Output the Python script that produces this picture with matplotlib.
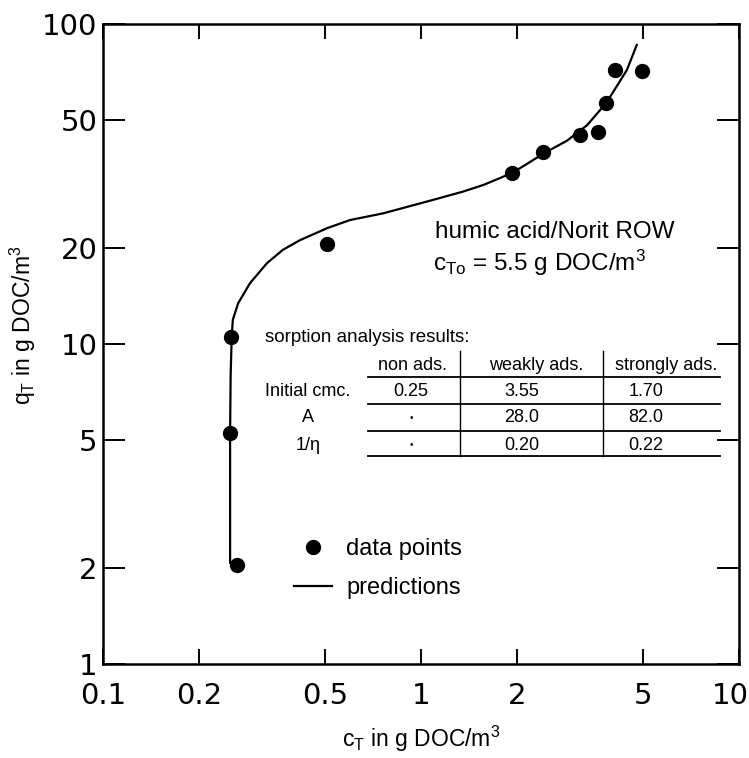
import matplotlib
matplotlib.use("Agg")
from matplotlib import pyplot as plt
from matplotlib.lines import Line2D
from matplotlib.transforms import ScaledTranslation

plt.rcParams['font.family'] = ['Liberation Sans', 'DejaVu Sans']
plt.rcParams['mathtext.fontset'] = 'custom'
plt.rcParams['mathtext.rm'] = 'Liberation Sans'
plt.rcParams['mathtext.it'] = 'Liberation Sans:italic'

# Measured isotherm: humic acid on Norit ROW
c_data = [0.253, 0.251, 0.264, 0.506, 1.93, 2.42, 3.16, 3.60, 3.82, 4.08, 4.95]
q_data = [10.5, 5.27, 2.04, 20.5, 34.2, 39.8, 45.0, 46.0, 56.6, 71.8, 71.3]

# Predicted curve
c_pred = [0.251, 0.251, 0.252, 0.254, 0.256, 0.266, 0.290, 0.328, 0.368, 0.416,
          0.506, 0.598, 0.76, 1.09, 1.35, 1.57, 1.93, 2.15, 2.42, 2.88, 3.33,
          3.82, 4.02, 4.44, 4.77]
q_pred = [2.07, 5.27, 8.0, 10.6, 11.9, 13.4, 15.5, 17.9, 19.7, 21.1,
          23.0, 24.4, 25.6, 28.2, 29.9, 31.4, 34.2, 36.5, 39.3, 43.2, 48.3,
          56.6, 61.3, 71.8, 86.0]

x_ticks = [0.1, 0.2, 0.5, 1, 2, 5, 10]
x_ticklabels = ["0.1", "0.2", "0.5", "1", "2", "5", "10"]
y_ticks = [1, 2, 5, 10, 20, 50, 100]
y_ticklabels = ["1", "2", "5", "10", "20", "50", "100"]

# sorption analysis table
col_headers = ["non ads.", "weakly ads.", "strongly ads."]
row_labels = ["Initial cmc.", "A", "1/\u03b7"]
cells = [["0.25", "3.55", "1.70"],
         ["\u2022", "28.0", "82.0"],
         ["\u2022", "0.20", "0.22"]]

W, H = 749, 758
fig = plt.figure(figsize=(W / 100, H / 100), dpi=100)
ax = fig.add_axes([103 / W, 1 - 664 / H, 636 / W, 640 / H])


def fx(p):
    return p / W


def fy(p):
    return 1 - p / H


pts, = ax.plot(c_data, q_data, 'o', color='black', markersize=10, label='data points')
line, = ax.plot(c_pred, q_pred, '-', color='black', lw=1.6, label='predictions')

ax.set_xscale('log')
ax.set_yscale('log')
ax.set_xlim(0.1, 10)
ax.set_ylim(1, 100)
ax.set_xticks(x_ticks)
ax.set_xticklabels(x_ticklabels)
ax.set_yticks(y_ticks)
ax.set_yticklabels(y_ticklabels)
ax.minorticks_off()
ax.tick_params(which='major', direction='in', top=True, right=True,
               width=1.4, labelsize=21)
ax.tick_params(axis='x', pad=13, length=11)
ax.tick_params(axis='y', pad=4, length=16)
for lab in ax.get_xticklabels() + ax.get_yticklabels():
    lab.set_family('DejaVu Sans')
# keep the "10" inside the canvas
last = ax.get_xticklabels()[-1]
last.set_transform(last.get_transform() + ScaledTranslation(-9 / 100, 0, fig.dpi_scale_trans))
for s in ax.spines.values():
    s.set_linewidth(1.8)

ax.set_xlabel(r"c$_\mathrm{T}$ in g DOC/m$^3$", fontsize=16.5, labelpad=10)
ax.set_ylabel(r"q$_\mathrm{T}$ in g DOC/m$^3$", fontsize=16.5)
ax.yaxis.set_label_coords(-0.102, 0.53)

fig.text(fx(435), fy(232), "humic acid/Norit ROW", fontsize=17.5, va='center', ha='left')
fig.text(fx(433), fy(263), r"c$_\mathrm{To}$ = 5.5 g DOC/m$^3$", fontsize=17.5,
         va='center', ha='left')

ax.legend(handles=[pts, line], loc='upper left',
          bbox_to_anchor=(fx(294), fy(538)), bbox_transform=fig.transFigure,
          frameon=False, fontsize=17, handlelength=1.6, handletextpad=0.6,
          labelspacing=0.72, borderpad=0, borderaxespad=0)

# table
fig.text(fx(265), fy(337), "sorption analysis results:", fontsize=13.5, va='center')
head_x = [412, 536, 666]
col_x = [411, 522, 646]
row_y = [391, 418, 445]
head_y = 365
for cx, h in zip(head_x, col_headers):
    fig.text(fx(cx), fy(head_y), h, fontsize=13, ha='center', va='center')
for ry, lab, vals in zip(row_y, row_labels, cells):
    fig.text(fx(308), fy(ry), lab, fontsize=13, ha='center', va='center')
    for cx, v in zip(col_x, vals):
        fig.text(fx(cx), fy(ry), v, fontsize=13 if v != "\u2022" else 7,
                 ha='center', va='center')
for hy in [377, 404, 431, 456]:
    fig.add_artist(Line2D([fx(368), fx(720)], [fy(hy), fy(hy)], color='black', lw=1.3))
for vx in [460, 603]:
    fig.add_artist(Line2D([fx(vx), fx(vx)], [fy(351), fy(456)], color='black', lw=1.0))

fig.savefig("out.png", dpi=100)
